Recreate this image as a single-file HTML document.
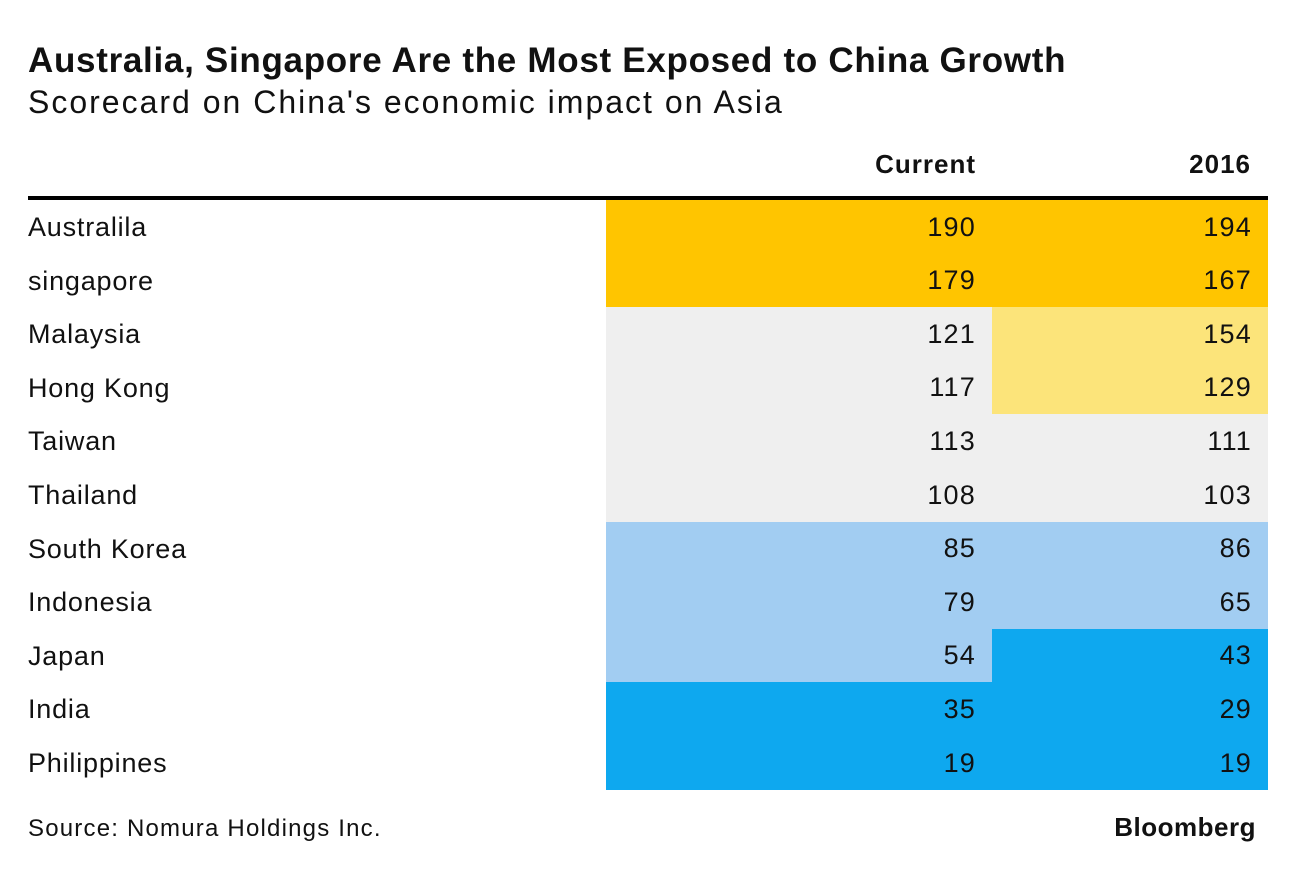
<!DOCTYPE html>
<html><head><meta charset="utf-8"><style>
body{margin:0;width:1296px;height:870px;background:#fff;font-family:"Liberation Sans",sans-serif;color:#111;position:relative;overflow:hidden}
.a{position:absolute;white-space:nowrap}
#title{left:28px;top:41px;font-size:35px;font-weight:bold;letter-spacing:0.7px}
#sub{left:28px;top:84px;font-size:32px;letter-spacing:2px}
.hd{top:149px;font-size:26px;font-weight:bold;text-align:right;letter-spacing:1px}
#rule{left:28px;top:196px;width:1240px;height:4px;background:#000}
.lbl{left:28px;font-size:27px;letter-spacing:0.8px}
.cell{font-size:27px;text-align:right;box-sizing:border-box;padding-right:16px;display:flex;align-items:center;justify-content:flex-end;letter-spacing:1.2px}
#src{left:28px;top:815px;font-size:24px;letter-spacing:1.2px}
#logo{right:40px;top:812px;font-size:26px;font-weight:bold;letter-spacing:0.5px}
</style></head><body>
<div class="a" id="title">Australia, Singapore Are the Most Exposed to China Growth</div>
<div class="a" id="sub">Scorecard on China's economic impact on Asia</div>
<div class="a hd" style="left:700px;width:276px">Current</div>
<div class="a hd" style="left:1000px;width:251px">2016</div>
<div class="a" id="rule"></div>
<div id="rows"></div>
<div class="a" id="src">Source: Nomura Holdings Inc.</div>
<div class="a" id="logo">Bloomberg</div>
<script>
const countries=["Australila","singapore","Malaysia","Hong Kong","Taiwan","Thailand","South Korea","Indonesia","Japan","India","Philippines"];
const current=[190,179,121,117,113,108,85,79,54,35,19];
const y2016=[194,167,154,129,111,103,86,65,43,29,19];
function color(v){if(v>=160)return"#FFC500";if(v>=125)return"#FCE47A";if(v>=100)return"#EFEFEF";if(v>=50)return"#A2CDF2";return"#0EA8EF";}
const top0=200,rh=53.6,root=document.getElementById('rows');
countries.forEach((c,i)=>{
  const y=top0+i*rh;
  const l=document.createElement('div');
  l.className='a lbl';l.style.top=(y+12)+'px';l.textContent=c;
  
  
  root.appendChild(l);
  [[current[i],606,992],[y2016[i],992,1268]].forEach(([v,x0,x1],k)=>{
    const d=document.createElement('div');
    d.className='a cell';
    d.style.left=x0+'px';d.style.width=(x1-x0)+'px';
    d.style.top=y+'px';d.style.height=(rh+0.6)+'px';
    d.style.background=color(v);d.textContent=v;
    
    
    root.appendChild(d);
  });
});
</script>
</body></html>
